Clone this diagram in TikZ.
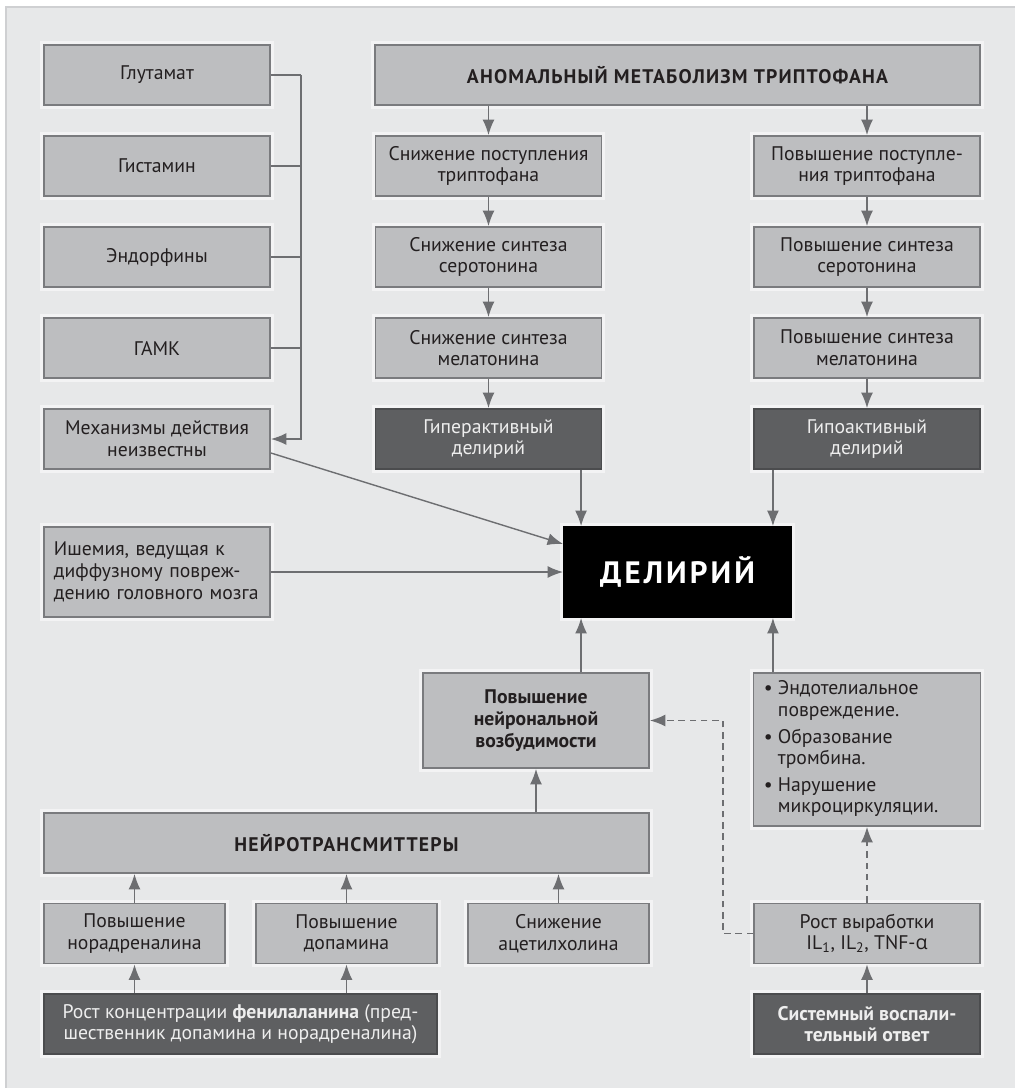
\documentclass[tikz,border=0pt]{standalone}
\usepackage{fontspec}
\setmainfont{PT Sans}
\newfontfamily\grkfont{Open Sans}
\usetikzlibrary{arrows.meta}

\definecolor{panel}{HTML}{E7E8E9}
\definecolor{panelline}{HTML}{CFD0D2}
\definecolor{boxfill}{HTML}{BDBEC0}
\definecolor{boxedge}{HTML}{7A7B7E}
\definecolor{darkfill}{HTML}{5E5F61}
\definecolor{arrowc}{HTML}{6D6E71}
\definecolor{txt}{HTML}{231F20}
\definecolor{lighttxt}{HTML}{EEEEEE}

\newcommand\normtext{\fontsize{14}{15.4}\selectfont}
\newcommand\headtext{\fontsize{14}{15.4}\selectfont\bfseries\addfontfeature{LetterSpace=6}}

\tikzset{>={Latex[length=11pt,width=8.5pt]}}
\tikzset{
	lbox/.style={draw=boxedge, line width=1.3pt, fill=boxfill, text=txt, align=center,
		font=\normtext, inner sep=2pt, minimum width=5.65cm, minimum height=1.5cm,
		preaction={draw=white, draw opacity=.5, line width=5pt}},
	dbox/.style={lbox, fill=darkfill, text=lighttxt, draw=darkfill!80!black},
	conn/.style={draw=arrowc, line width=1pt},
	dconn/.style={conn, dash pattern=on 4.5pt off 3.5pt},
}

\begin{document}
\begin{tikzpicture}[x=0.025cm, y=-0.025cm]
%	\draw[help lines, step=50] (0,0) grid (1015,1088);
	\useasboundingbox (0,0) rectangle (1015,1088);
	\fill[white] (0,0) rectangle (1015,1088);
	\fill[panel] (6,7) rectangle (1015,1088);
	\draw[panelline, line width=1pt] (6,1088) -- (6,7) -- (1015,7);

	% left column
	\node[lbox] (glu) at (157,75) {Глутамат};
	\node[lbox] (gis) at (157,166) {Гистамин};
	\node[lbox] (endo) at (157,257) {Эндорфины};
	\node[lbox] (gaba) at (157,348) {ГАМК};
	\node[lbox] (mech) at (157,439) {Механизмы действия\\неизвестны};
	\node[lbox, minimum height=2.25cm, text width=5.15cm, align=left] (isch) at (157,572)
		{Ишемия, ведущая к\\диффузному повреж-\\дению головного мозга};

	% tryptophan
	\node[lbox, minimum width=15.125cm, font=\headtext] (anom) at (677.5,75) {АНОМАЛЬНЫЙ МЕТАБОЛИЗМ ТРИПТОФАНА};
	\node[lbox] (tl1) at (488.5,166) {Снижение поступления\\триптофана};
	\node[lbox] (tl2) at (488.5,257) {Снижение синтеза\\серотонина};
	\node[lbox] (tl3) at (488.5,348) {Снижение синтеза\\мелатонина};
	\node[dbox] (hyper) at (488.5,439) {Гиперактивный\\делирий};
	\node[lbox] (tr1) at (867,166) {Повышение поступле-\\ния триптофана};
	\node[lbox] (tr2) at (867,257) {Повышение синтеза\\серотонина};
	\node[lbox] (tr3) at (867,348) {Повышение синтеза\\мелатонина};
	\node[dbox] (hypo) at (867,439) {Гипоактивный\\делирий};

	\node[lbox, fill=black, draw=black, text=white, minimum width=5.675cm, minimum height=2.25cm,
		font=\fontsize{22}{24}\selectfont\bfseries\addfontfeature{LetterSpace=10}] (del) at (677.5,572) {ДЕЛИРИЙ};

	% lower part
	\node[lbox, minimum height=2.375cm, font=\normtext\bfseries] (neur) at (536,720.5)
		{Повышение\\нейрональной\\возбудимости};
	\node[lbox, minimum width=5.675cm, minimum height=3.825cm] (bul) at (867,749.5) {%
		\begin{tabular}{@{}p{0.35cm}@{}p{4.8cm}@{}}
		\textbullet & Эндотелиальное\\ & повреждение.\\[3.5pt]
		\textbullet & Образование\\ & тромбина.\\[3.5pt]
		\textbullet & Нарушение\\ & микроциркуляции.
		\end{tabular}};
	\node[lbox, minimum width=15.125cm, font=\headtext] (nt) at (346.5,843) {НЕЙРОТРАНСМИТТЕРЫ};
	\node[lbox, minimum width=4.525cm] (norad) at (134.5,933.5) {Повышение\\норадреналина};
	\node[lbox, minimum width=4.525cm] (dopa) at (346.5,933.5) {Повышение\\допамина};
	\node[lbox, minimum width=4.525cm] (ach) at (558.5,933.5) {Снижение\\ацетилхолина};
	\node[dbox, minimum width=9.825cm] (phe) at (240.5,1024)
		{Рост концентрации \textbf{фенилаланина} (пред-\\шественник допамина и норадреналина)};
	\node[lbox] (il) at (867,933.5) {Рост выработки\\IL\textsubscript{1}, IL\textsubscript{2}, TNF-{\grkfont α}};
	\node[dbox, font=\normtext\bfseries] (sir) at (867,1024) {Системный воспали-\\тельный ответ};

	% connectors
	\coordinate (jt) at ([xshift=0.75cm]glu.east);
	\draw[conn] (glu.east) -- (jt);
	\foreach \n in {gis,endo,gaba}
		\draw[conn] (\n.east) -- (\n.east -| jt);
	\draw[conn,->] (jt) |- (mech.east);
	\draw[conn,->] ([yshift=-0.35cm]mech.east) -- ([yshift=0.7cm]del.west);
	\draw[conn,->] (isch.east) -- (del.west);

	\draw[conn,->] (anom.south -| tl1) -- (tl1.north);
	\draw[conn,->] (anom.south -| tr1) -- (tr1.north);
	\foreach \a/\b in {tl1/tl2,tl2/tl3,tl3/hyper,tr1/tr2,tr2/tr3,tr3/hypo}
		\draw[conn,->] (\a.south) -- (\b.north);

	\coordinate (dtl) at ([xshift=0.45cm]del.north west);
	\coordinate (dtr) at ([xshift=-0.475cm]del.north east);
	\coordinate (dbl) at ([xshift=0.45cm]del.south west);
	\coordinate (dbr) at ([xshift=-0.475cm]del.south east);
	\draw[conn,->] (hyper.south -| dtl) -- (dtl);
	\draw[conn,->] (hypo.south -| dtr) -- (dtr);
	\draw[conn,->] (neur.north -| dbl) -- (dbl);
	\draw[conn,->] (bul.north -| dbr) -- (dbr);

	\draw[conn,->] (nt.north -| neur) -- (neur.south);
	\foreach \n in {norad,dopa,ach}
		\draw[conn,->] (\n.north) -- (\n |- nt.south);
	\draw[conn,->] (phe.north -| norad) -- (norad.south);
	\draw[conn,->] (phe.north -| dopa) -- (dopa.south);
	\draw[conn,->] (sir.north) -- (il.south);
	\draw[dconn,->] (il.north) -- (bul.south);
	\draw[dconn,->] (il.west) -- ++(-30,0) |- (neur.east);
\end{tikzpicture}
\end{document}
